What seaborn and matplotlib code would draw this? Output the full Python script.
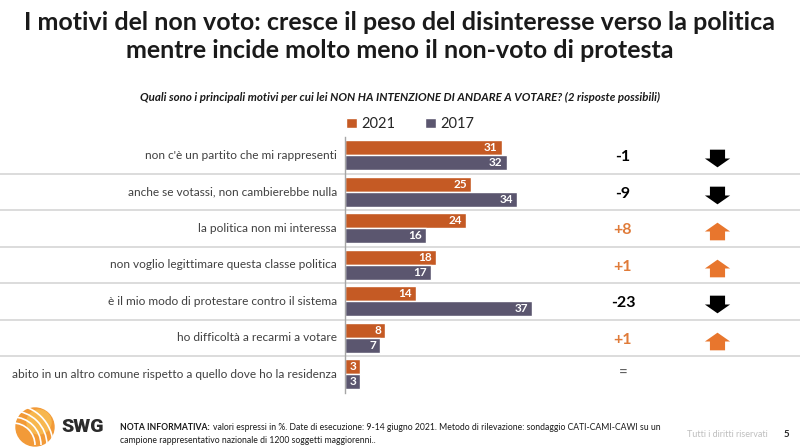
import matplotlib
matplotlib.use("Agg")
import matplotlib.pyplot as plt
import seaborn as sns
import pandas as pd
import numpy as np
from matplotlib.path import Path
from matplotlib.patches import Patch, Circle, Arc

categories = [
    "non c'è un partito che mi rappresenti",
    "anche se votassi, non cambierebbe nulla",
    "la politica non mi interessa",
    "non voglio legittimare questa classe politica",
    "è il mio modo di protestare contro il sistema",
    "ho difficoltà a recarmi a votare",
    "abito in un altro comune rispetto a quello dove ho la residenza",
]
v2021 = [31, 25, 24, 18, 14, 8, 3]
v2017 = [32, 34, 16, 17, 37, 7, 3]
years = ["2021", "2017"]

ORANGE = "#C55A24"
SLATE = "#5B566F"
ARROW_OR = "#E8762D"

sns.set_theme(style="white")
plt.rcParams["font.family"] = ["Lato", "DejaVu Sans"]

df = pd.DataFrame({
    "cat": categories * 2,
    "val": v2021 + v2017,
    "year": [years[0]] * len(categories) + [years[1]] * len(categories),
})

W, H = 800, 448
fig = plt.figure(figsize=(8, 4.48), dpi=100)
ax_left, ax_right = 345, 800
ax_top, ax_bot = 137, 392.5
ax = fig.add_axes([ax_left / W, 1 - ax_bot / H, (ax_right - ax_left) / W, (ax_bot - ax_top) / H])
pxu = 5.05
sns.barplot(data=df, y="cat", x="val", hue="year", hue_order=years,
            palette=[ORANGE, SLATE], orient="h", width=0.82, gap=0,
            legend=False, ax=ax, saturation=1)
ax.set_xlim(0, (ax_right - ax_left) / pxu)
ax.set_ylim(len(categories) - 0.5, -0.5)
ax.set_xlabel("")
ax.set_ylabel("")
ax.set_xticks([])
ax.set_yticks([])
for s in ["top", "right", "bottom"]:
    ax.spines[s].set_visible(False)
ax.spines["left"].set_color("#A6A6A6")
ax.spines["left"].set_linewidth(1.0)

# value labels
for cont in ax.containers:
    for bar in cont:
        w = bar.get_width()
        yc = bar.get_y() + bar.get_height() / 2
        ax.text(w - 0.8, yc, f"{int(round(w))}", ha="right", va="center",
                color="white", fontsize=8.5, fontweight="bold")

# category labels
for i, c in enumerate(categories):
    ax.text(-8 / pxu, i, c, ha="right", va="center", fontsize=8.6,
            color="#404040")

# separators spanning full width
for i in range(len(categories) - 1):
    ax.axhline(i + 0.5, xmin=-ax_left / (ax_right - ax_left), xmax=1,
               color="#D9D9D9", lw=1.3, clip_on=False, zorder=0)

# deltas and arrows
down = Path([(-0.3, 0.35), (0.3, 0.35), (0.3, 0.0), (0.5, 0.0), (0.0, -0.35),
             (-0.5, 0.0), (-0.3, 0.0), (-0.3, 0.35)], closed=True)
up = Path([(-0.3, -0.35), (0.3, -0.35), (0.3, 0.0), (0.5, 0.0), (0.0, 0.35),
           (-0.5, 0.0), (-0.3, 0.0), (-0.3, -0.35)], closed=True)
dx = (623 - ax_left) / pxu
ax_x = (717 - ax_left) / pxu
for i, (a, b) in enumerate(zip(v2021, v2017)):
    d = a - b
    if d == 0:
        ax.text(dx, i, "=", ha="center", va="center", fontsize=11, color="#595959")
        continue
    col = "black" if d < 0 else ARROW_OR
    tcol = "black" if d < 0 else "#E07B39"
    ax.text(dx, i + 0.05, f"{d:+d}", ha="center", va="center", fontsize=11.5,
            fontweight="bold", color=tcol)
    ax.scatter([ax_x], [i + 0.08], marker=down if d < 0 else up, s=330,
               color=col, linewidths=0, clip_on=False, zorder=3)

# legend
handles = [Patch(facecolor=ORANGE, label=years[0]), Patch(facecolor=SLATE, label=years[1])]
fig.legend(handles=handles, loc="center left", bbox_to_anchor=(333 / W, 1 - 124 / H),
           ncol=2, frameon=False, fontsize=10.5, handlelength=0.75, handleheight=0.75,
           handletextpad=0.3, columnspacing=2.0, labelcolor="#262626")

# titles
fig.text(0.5, 1 - 23 / H, "I motivi del non voto: cresce il peso del disinteresse verso la politica",
         ha="center", va="center", fontsize=18, fontweight="bold", color="#1A1A1A")
fig.text(0.5, 1 - 51 / H, "mentre incide molto meno il non-voto di protesta",
         ha="center", va="center", fontsize=18, fontweight="bold", color="#1A1A1A")
fig.text(0.5, 1 - 97 / H,
         "Quali sono i principali motivi per cui lei NON HA INTENZIONE DI ANDARE A VOTARE? (2 risposte possibili)",
         ha="center", va="center", fontsize=8.3, fontweight="bold", style="italic", color="#1A1A1A")

# footer
lax = fig.add_axes([12 / W, 1 - 447 / H, 46 / W, 40 / H])
lax.set_xlim(-1.15, 1.15)
lax.set_ylim(-1, 1)
lax.set_aspect("equal")
lax.axis("off")
lax.add_patch(Circle((0, 0), 0.95, color="#F29A38"))
lax.add_patch(Circle((0.2, 0.25), 0.6, color="#F7B74E"))
for r in [0.5, 0.8, 1.1, 1.4]:
    lax.add_patch(Arc((-1.1, -0.9), 2 * r + 1.2, 2 * r + 1.2, theta1=0, theta2=90,
                      color="white", lw=1.2))
fig.text(61 / W, 1 - 427 / H, "SWG", ha="left", va="center", fontsize=14,
         fontweight="heavy", color="#2B2B2B", family=["Roboto", "DejaVu Sans"])
bold_t = fig.text(120 / W, 1 - 427 / H, "NOTA INFORMATIVA:", ha="left", va="center",
                  fontsize=6.2, fontweight="bold", color="#1A1A1A")
fig.canvas.draw()
bb = bold_t.get_window_extent(renderer=fig.canvas.get_renderer())
fig.text((bb.x1 + 3) / W, 1 - 427 / H,
         "valori espressi in %. Date di esecuzione: 9-14 giugno 2021. Metodo di rilevazione: sondaggio CATI-CAMI-CAWI su un",
         ha="left", va="center", fontsize=6.2, color="#1A1A1A")
fig.text(120 / W, 1 - 440 / H,
         "campione rappresentativo nazionale di 1200 soggetti maggiorenni..",
         ha="left", va="center", fontsize=6.2, color="#1A1A1A")
fig.text(768 / W, 1 - 434 / H, "Tutti i diritti riservati", ha="right", va="center",
         fontsize=6.5, color="#BFBFBF")
fig.text(786 / W, 1 - 434 / H, "5", ha="center", va="center", fontsize=7,
         fontweight="bold", color="#262626")

fig.savefig("out.png", dpi=100)
